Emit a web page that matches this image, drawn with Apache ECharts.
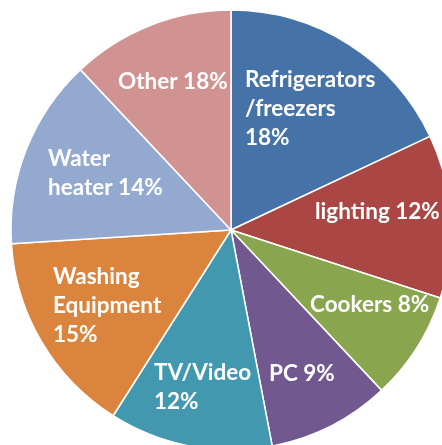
<!DOCTYPE html>
<html lang="en">
<head>
    <meta charset="UTF-8">
    <title>Energy use by appliance</title>
    <script src="https://cdn.jsdelivr.net/npm/echarts@6/dist/echarts.min.js"></script>
    <style>
        html, body { margin: 0; padding: 0; background: #fff; }
        #chart { width: 442px; height: 445px; }
    </style>
</head>
<body>
<div id="chart"></div>
<script>
    // slice sizes as drawn (clockwise from 12 o'clock)
    var categories = ['Refrigerators /freezers', 'lighting', 'Cookers', 'PC', 'TV/Video', 'Washing Equipment', 'Water heater', 'Other'];
    var values = [18, 12, 8, 9, 12, 15, 14, 12];
    // text printed on each slice
    var labelText = [
        'Refrigerators\n/freezers\n18%',
        'lighting 12%',
        'Cookers 8%',
        'PC 9%',
        'TV/Video\n12%',
        'Washing\nEquipment\n15%',
        'Water\nheater 14%',
        'Other 18%'
    ];
    var colors = ['#4572A7', '#AA4643', '#89A54E', '#71588F', '#4198AF', '#DB843D', '#93A9CF', '#D19392'];

    var cx = 231, cy = 230;
    // label block: left edge / vertical middle, relative to pie centre
    var labelOffset = [[14, -121], [84, -18], [79, 75], [38, 144], [-77, 157], [-178, 76], [-183, -57], [-113, -148]];

    var chart = echarts.init(document.getElementById('chart'));

    var data = categories.map(function (c, i) {
        return { name: c, value: values[i], itemStyle: { color: colors[i] } };
    });

    chart.setOption({
        animation: false,
        series: [{
            type: 'pie',
            center: [cx, cy],
            radius: 220,
            startAngle: 90,
            clockwise: true,
            data: data,
            itemStyle: { borderColor: '#fff', borderWidth: 1.5 },
            label: {
                show: true,
                position: 'inside',
                color: '#fff',
                fontFamily: 'Lato',
                fontWeight: 'bold',
                fontSize: 22.5,
                lineHeight: 29,
                align: 'left',
                formatter: function (p) { return labelText[p.dataIndex]; }
            },
            labelLine: { show: false },
            labelLayout: function (p) {
                var o = labelOffset[p.dataIndex];
                return { x: cx + o[0], y: cy + o[1], align: 'left', verticalAlign: 'middle' };
            },
            emphasis: { disabled: true }
        }]
    });
</script>
</body>
</html>
